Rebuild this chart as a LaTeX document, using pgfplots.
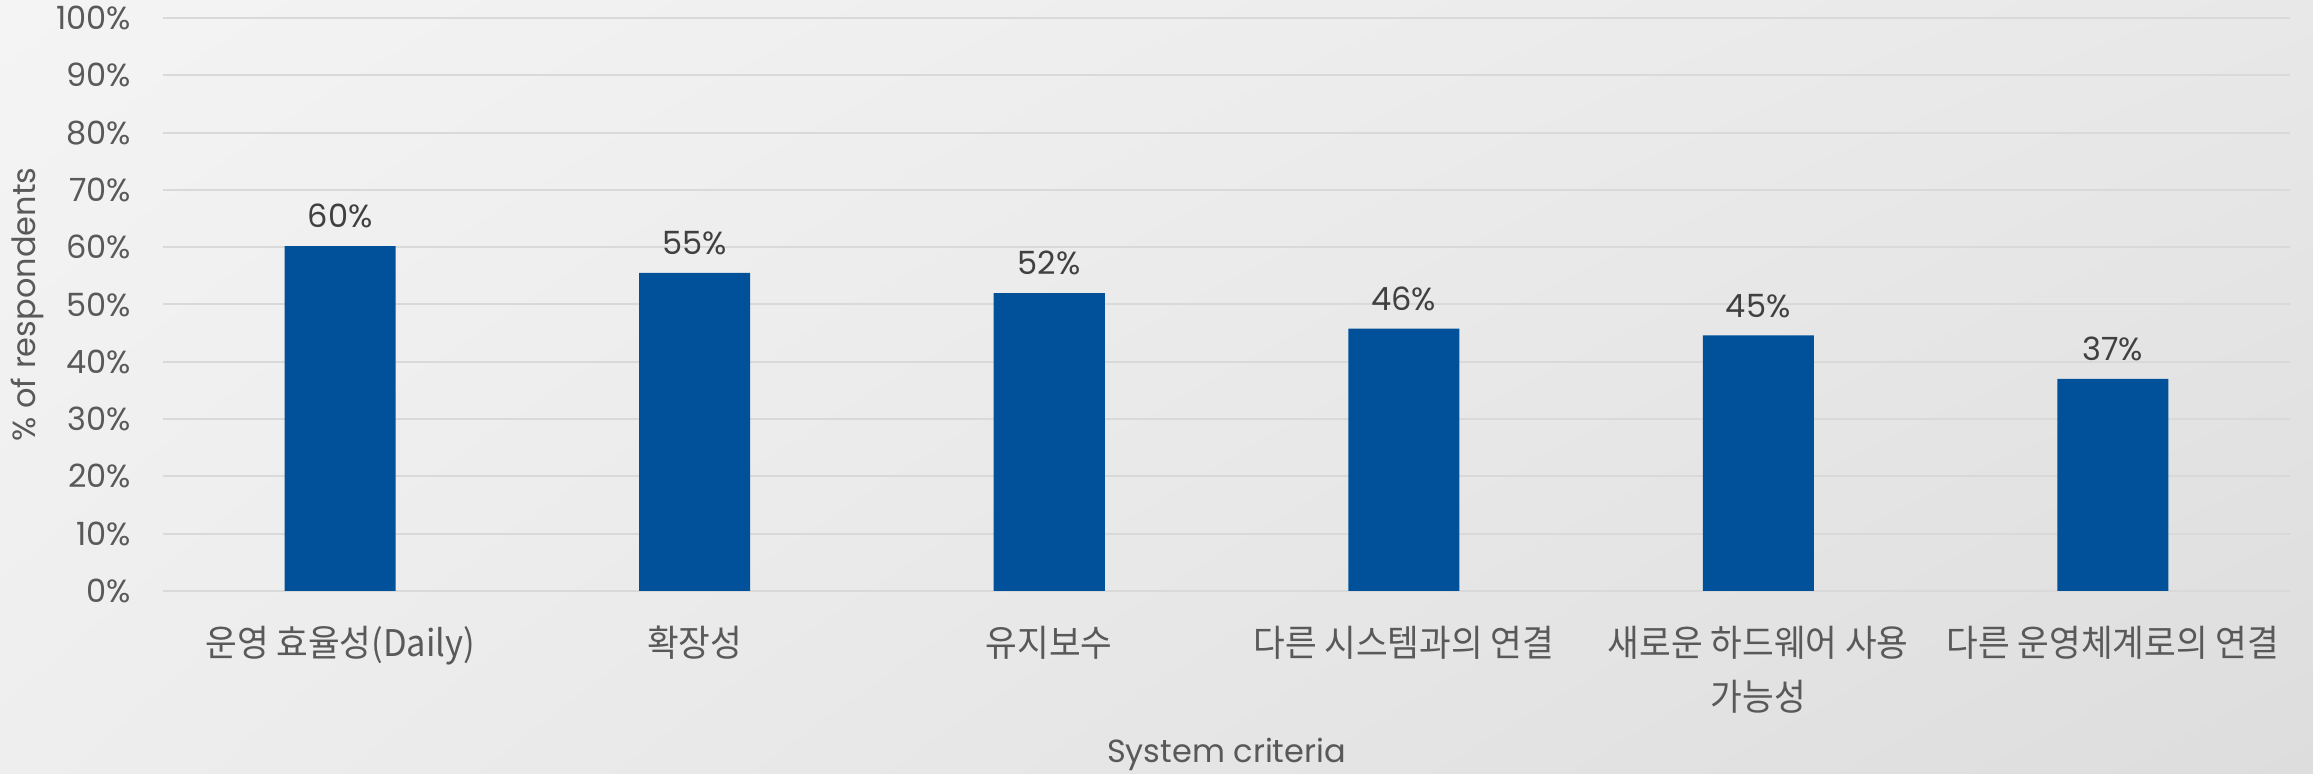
\documentclass[border=0pt]{standalone}
\usepackage{pgfplots}
\pgfplotsset{compat=1.18}
\usepackage{pgfplotstable}
\usetikzlibrary{shadings}
\usepackage{fontspec}
\setmainfont{Poppins}
\newfontfamily\kr[FakeStretch=0.94]{Noto Sans CJK KR}
\definecolor{barblue}{RGB}{0,81,154}
\definecolor{gridgray}{RGB}{217,217,217}
\definecolor{tickgray}{RGB}{89,89,89}
\definecolor{labgray}{RGB}{64,64,64}
\definecolor{bgul}{RGB}{244,244,244}
\definecolor{bgur}{RGB}{232,232,232}
\definecolor{bgll}{RGB}{238,238,238}
\definecolor{bglr}{RGB}{221,221,221}
\pgfplotstableread{
x y lab
0 60.2 60
1 55.5 55
2 52.0 52
3 45.8 46
4 44.6 45
5 37.0 37
}\datatable
\begin{document}
\begin{tikzpicture}
\shade[upper left=bgul, upper right=bgur, lower left=bgll, lower right=bglr]
  (-48.9pt,-54.9pt) rectangle (645pt,177.3pt);
\begin{axis}[
  at={(0,0)}, anchor=south west,
  scale only axis,
  width=638.1pt, height=171.9pt,
  xmin=-0.5, xmax=5.5,
  ymin=0, ymax=100,
  axis line style={draw=none},
  tick style={draw=none},
  ymajorgrids,
  grid style={gridgray, line width=0.6pt},
  major tick length=0pt,
  ytick={0,10,...,100},
  yticklabels={0\%,10\%,20\%,30\%,40\%,50\%,60\%,70\%,80\%,90\%,100\%},
  yticklabel style={font=\fontsize{9.6}{11}\selectfont, text=tickgray, anchor=east, xshift=-6pt},
  xtick={0,...,5},
  xticklabels={{운영 효율성(Daily)},{확장성},{유지보수},{다른 시스템과의 연결},{새로운 하드웨어 사용\\가능성},{다른 운영체계로의 연결}},
  xticklabel style={font=\kr\fontsize{11}{16.2}\selectfont, text=tickgray, align=center, anchor=north, yshift=-7pt},
  ylabel={\% of respondents},
  xlabel={System criteria},
  every axis y label/.style={at={(axis description cs:-0.0639,0.5)}, rotate=90, anchor=center, font=\fontsize{9.6}{12}\selectfont, text=tickgray},
  every axis x label/.style={at={(axis description cs:0.5,-0.2845)}, anchor=center, font=\fontsize{9.6}{12}\selectfont, text=tickgray},
  ybar, bar width=33.3pt,
  point meta=explicit symbolic,
  nodes near coords={\pgfplotspointmeta\%},
  nodes near coords style={font=\fontsize{9.6}{11}\selectfont, text=labgray, anchor=base, yshift=5.5pt},
  clip=false,
]
\addplot[fill=barblue, draw=none] table[x=x, y=y, meta=lab] {\datatable};
\end{axis}
\pgfresetboundingbox
\path (-48.9pt,-54.9pt) rectangle (645pt,177.3pt);
\end{tikzpicture}
\end{document}
